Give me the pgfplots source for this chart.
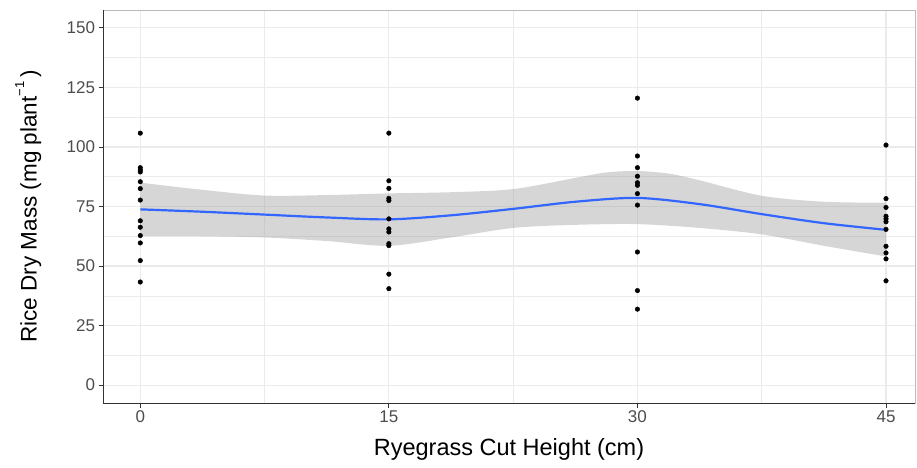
\documentclass[border=0pt]{standalone}
\usepackage{pgfplots}
\pgfplotsset{compat=1.18}
\usepgfplotslibrary{fillbetween}
\usepackage{fontspec}
\setmainfont{Liberation Sans}
\definecolor{gg20}{RGB}{51,51,51}
\definecolor{gg30}{RGB}{77,77,77}
\definecolor{gg60}{RGB}{153,153,153}
\definecolor{gg92}{RGB}{235,235,235}
\definecolor{ggblue}{RGB}{51,102,255}
\begin{document}
\begin{tikzpicture}
\begin{axis}[
  scale only axis, width=812bp, height=393bp,
  xmin=-2.25, xmax=46.75, ymin=-7.5, ymax=157.5,
  xtick={0,15,30,45}, ytick={0,25,50,75,100,125,150},
  minor xtick={7.5,22.5,37.5}, minor ytick={12.5,37.5,62.5,87.5,112.5,137.5},
  grid=both,
  major grid style={draw=gg92, line width=1.1bp},
  minor grid style={draw=gg92, line width=0.6bp},
  axis line style={draw=gray!55, line width=0.6bp},
  tick pos=left, tick align=outside,
  major tick length=4.5bp, minor tick length=0pt,
  tick style={draw=gg20, line width=0.8bp},
  tick label style={font=\fontsize{17bp}{19bp}\selectfont, text=gg30},
  /pgf/number format/assume math mode=true,
  label style={font=\fontsize{23.5bp}{27bp}\selectfont, text=black},
  xlabel={Ryegrass Cut Height (cm)},
  ylabel={Rice Dry Mass (mg plant\raisebox{1.05ex}{\fontsize{13bp}{14bp}\selectfont −1}\,)},
  xlabel style={at={(axis description cs:0.5,-0.117)}, anchor=center},
  ylabel style={at={(axis description cs:-0.092,0.5)}, anchor=center, font=\fontsize{22.5bp}{26bp}\selectfont},
]
\addplot[name path=up, draw=none, smooth, forget plot] coordinates {
(0,85.0) (3.75,82.0) (7.5,79.6) (11.25,79.8) (15,80.5) (18.75,81.0) (22.5,82.3)
(26.25,87.0) (28.1,89.3) (30,89.9) (31.9,88.8) (33.75,86.0) (37.5,79.5) (41.25,77.0) (45,76.6)};
\addplot[name path=lo, draw=none, smooth, forget plot] coordinates {
(0,62.6) (3.75,62.5) (7.5,62.0) (11.25,60.5) (15,58.5) (18.75,62.0) (22.5,66.0)
(26.25,67.3) (30,67.6) (33.75,66.0) (37.5,63.3) (41.25,58.5) (45,54.0)};
\addplot[fill=gg60, fill opacity=0.4, draw=none, forget plot] fill between[of=up and lo];
\addplot[ggblue, line width=2.2bp, smooth] coordinates {
(0,73.8) (3.75,72.8) (7.5,71.6) (11.25,70.4) (15,69.6) (18.75,71.3) (22.5,74.0)
(26.25,77.0) (30,78.6) (33.75,76.0) (37.5,71.8) (41.25,68.0) (45,65.2)};
\addplot[only marks, mark=*, mark size=2.3bp, black] coordinates {
(0,105.8) (0,91.3) (0,90.3) (0,89.5) (0,85.4) (0,82.5) (0,77.7) (0,69.0) (0,66.3) (0,62.8) (0,59.7) (0,52.3) (0,43.3)
(15,105.8) (15,85.8) (15,82.6) (15,78.4) (15,77.5) (15,69.8) (15,65.6) (15,64.3) (15,59.4) (15,58.6) (15,46.6) (15,40.5)
(30,120.5) (30,96.2) (30,91.3) (30,87.7) (30,85.0) (30,83.9) (30,80.4) (30,75.6) (30,55.9) (30,39.7) (30,31.9)
(45,100.8) (45,78.3) (45,74.6) (45,70.9) (45,69.8) (45,68.6) (45,65.4) (45,58.3) (45,55.5) (45,53.0) (45,43.8)};
\end{axis}
\draw[gg20, line width=0.8bp] (current axis.north west) -- (current axis.south west) -- (current axis.south east);
\path ([shift={(-103bp,-64bp)}]current axis.south west) rectangle ([shift={(2bp,10bp)}]current axis.north east);
\end{tikzpicture}
\end{document}
